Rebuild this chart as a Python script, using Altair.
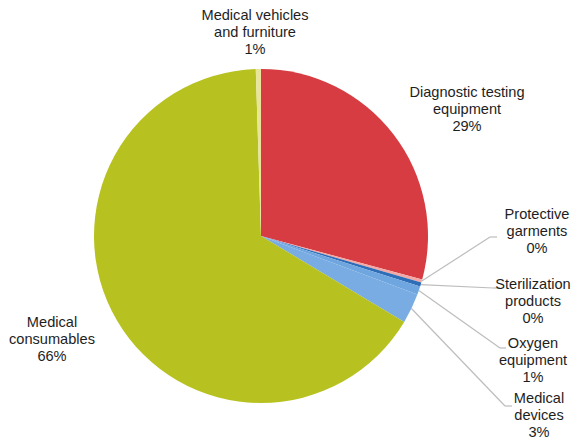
import math
import altair as alt
import pandas as pd

# ---- data ----
categories = ["Diagnostic testing equipment", "Protective garments", "Sterilization products",
              "Oxygen equipment", "Medical devices", "Medical consumables",
              "Medical vehicles and furniture"]
shares = [29.2, 0.3, 0.4, 0.8, 2.9, 65.9, 0.5]
pct_labels = ["29%", "0%", "0%", "1%", "3%", "66%", "1%"]
label_lines = [["Diagnostic testing", "equipment"], ["Protective", "garments"],
               ["Sterilization", "products"], ["Oxygen", "equipment"],
               ["Medical", "devices"], ["Medical", "consumables"],
               ["Medical vehicles", "and furniture"]]
colors = ["#d63c41", "#f2a9a6", "#2e6db8", "#6fa6df", "#78ace2", "#b7c11f", "#e8e49a"]

# ---- layout (styles / positions, not data) ----
W, H = 567, 432
CX, CY, R = 253, 228, 167
label_pos = {  # centre x and first-line y of each label block
    "Diagnostic testing equipment": (459, 85),
    "Protective garments": (529, 207),
    "Sterilization products": (525, 277),
    "Oxygen equipment": (525, 336),
    "Medical devices": (531, 391),
    "Medical consumables": (44, 315),
    "Medical vehicles and furniture": (247, 8),
}
leaders = {  # elbow and end of leader lines
    "Protective garments": ((482, 229), (489, 229)),
    "Sterilization products": ((485, 280), (492, 280)),
    "Oxygen equipment": ((492, 340), (498, 340)),
    "Medical devices": ((497, 398), (504, 398)),
}

df = pd.DataFrame({"category": categories, "share": shares, "order": range(len(categories))})

pie = alt.Chart(df).mark_arc(outerRadius=R, x=CX, y=CY).encode(
    theta=alt.Theta("share:Q", stack=True),
    order=alt.Order("order:Q"),
    color=alt.Color("category:N", scale=alt.Scale(domain=categories, range=colors), legend=None),
)

# labels
lab_rows = []
for c, lines, p in zip(categories, label_lines, pct_labels):
    x, y = label_pos[c]
    lab_rows.append({"category": c, "text": lines + [p], "x": x, "y": y})
lab_df = pd.DataFrame(lab_rows)
labels = alt.Chart(lab_df).mark_text(
    font="Liberation Sans", fontSize=14.6, color="#1e1e1e", align="center",
    baseline="middle", lineHeight=17.2,
).encode(
    x=alt.X("x:Q", scale=None), y=alt.Y("y:Q", scale=None), text="text"
)

# leader lines, starting at each slice's mid angle on the rim
total = sum(shares)
seg_rows = []
cum = 0.0
for c, v in zip(categories, shares):
    a = (cum + v / 2) / total * 2 * math.pi
    cum += v
    if c in leaders:
        sx, sy = CX + R * math.sin(a), CY - R * math.cos(a)
        (ex, ey), (fx, fy) = leaders[c]
        seg_rows.append({"x": sx, "y": sy, "x2": ex, "y2": ey})
        seg_rows.append({"x": ex, "y": ey, "x2": fx, "y2": fy})
seg_df = pd.DataFrame(seg_rows)
rules = alt.Chart(seg_df).mark_rule(color="#bdbdbd", strokeWidth=1.2).encode(
    x=alt.X("x:Q", scale=None), y=alt.Y("y:Q", scale=None),
    x2="x2:Q", y2="y2:Q",
)

chart = alt.layer(rules, pie, labels).properties(
    width=W, height=H, padding=0, autosize=alt.AutoSizeParams(type="none"),
    background="white",
).configure_view(stroke=None)

chart.save("out.html", embed_options={"renderer": "svg", "actions": False})
